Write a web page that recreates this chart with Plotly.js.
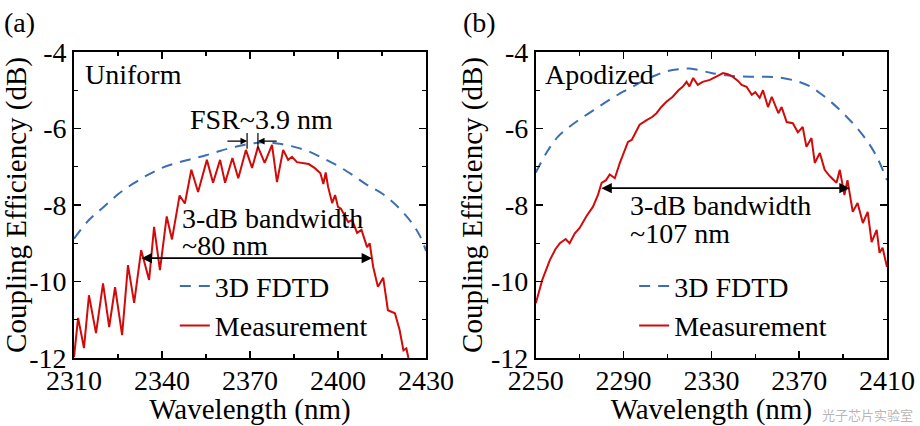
<!DOCTYPE html>
<html>
<head>
<meta charset="utf-8">
<script src="https://cdn.plot.ly/plotly-3.0.1.min.js"></script>
<style>html,body{margin:0;padding:0;background:#fff;}#chart{width:920px;height:426px;}</style>
</head>
<body>
<div id="chart"></div>
<script>
// ---------- data: panel (a) Uniform ----------
const wlLeftMeas = [2310,2311.4,2313.4,2315.1,2317.5,2319.9,2322,2324,2326.4,2328.4,2330.5,2332.9,2335.6,2337.3,2339.3,2341.6,2343.4,2346,2347.8,2350,2352.3,2355.3,2357.4,2359.8,2361.5,2364,2366,2368.6,2370.7,2372.7,2375,2377.5,2379.2,2381.3,2383,2384.3,2386,2388,2390,2392,2394,2395,2395.8,2396.6,2398,2399,2400,2401,2402.4,2403.5,2404.8,2406.5,2408,2409.9,2410.8,2412,2413.6,2415.4,2417,2419.4,2421,2422.3,2423.3,2424];
const measLeft = [-11.98,-10.95,-11.74,-10.36,-11.35,-10.05,-11.19,-10.15,-11.4,-9.57,-10.56,-9.18,-9.96,-8.57,-9.7,-8.3,-8.9,-7.75,-7.96,-7.08,-7.66,-6.82,-7.42,-6.82,-7.42,-6.77,-7.3,-6.56,-7.03,-6.48,-6.9,-6.43,-7.4,-6.56,-6.82,-6.74,-6.88,-6.9,-6.93,-7.03,-7.17,-7.45,-7.15,-7.52,-7.95,-7.74,-8.05,-8.1,-8.3,-8.45,-8.39,-8.73,-8.65,-9.1,-9.0,-9.62,-10.14,-9.9,-10.75,-10.83,-11.27,-11.8,-11.75,-12.0];
const wlLeftSim = [2310,2315,2320,2325,2330,2335,2340,2345,2350,2355,2360,2365,2370,2375,2380,2385,2390,2395,2400,2405,2410,2415,2420,2425,2428,2430];
const fdtdLeft = [-8.88,-8.4,-8.06,-7.72,-7.45,-7.22,-7.03,-6.9,-6.8,-6.7,-6.58,-6.48,-6.4,-6.36,-6.4,-6.48,-6.6,-6.78,-6.98,-7.22,-7.48,-7.7,-8.02,-8.45,-8.82,-9.2];

// ---------- data: panel (b) Apodized ----------
const wlRightMeas = [2250,2253,2256.4,2259,2261,2263.6,2265.4,2267.8,2270,2273,2276,2278.3,2280,2282,2283.7,2286,2288.3,2290,2292,2293.7,2295.5,2297.3,2300.5,2303,2305,2307,2309.5,2312.4,2315,2316.9,2318.7,2320,2321.7,2323.8,2326,2329.3,2332,2335.3,2337.5,2339.8,2342,2343.8,2346,2348.4,2350,2352,2353.5,2355.8,2357.5,2360.5,2362,2364.3,2367.1,2369.4,2371.6,2373.3,2375.6,2377.1,2379.4,2381.6,2384,2387,2388.5,2390.6,2392,2394.4,2396.6,2399,2401.2,2403,2405.3,2406.6,2408,2410];
const measRight = [-10.57,-9.95,-9.44,-9.15,-9.0,-8.89,-9.0,-8.74,-8.6,-8.3,-8.05,-7.74,-7.42,-7.35,-7.2,-7.3,-6.9,-6.65,-6.35,-6.3,-6.1,-5.9,-5.78,-5.7,-5.6,-5.45,-5.3,-5.17,-5.0,-4.91,-4.78,-4.9,-4.68,-4.86,-4.78,-4.73,-4.65,-4.55,-4.58,-4.65,-4.75,-4.86,-4.91,-5.12,-5.05,-5.2,-5.0,-5.44,-5.17,-5.6,-5.44,-5.83,-5.86,-6.1,-5.96,-6.48,-6.25,-6.9,-6.64,-7.08,-7.25,-7.42,-7.08,-7.74,-7.35,-8.18,-7.95,-8.47,-8.18,-8.97,-8.65,-9.25,-9.12,-9.62];
const wlRightSim = [2250,2255,2260,2265,2270,2275,2280,2285,2290,2295,2300,2305,2310,2315,2320,2325,2330,2340,2350,2360,2370,2375,2380,2385,2390,2395,2400,2405,2410];
const fdtdRight = [-7.15,-6.62,-6.22,-5.97,-5.76,-5.57,-5.38,-5.2,-5.03,-4.88,-4.72,-4.6,-4.5,-4.45,-4.43,-4.48,-4.55,-4.63,-4.65,-4.66,-4.78,-4.9,-5.1,-5.33,-5.6,-5.9,-6.25,-6.7,-7.35];

// ---------- ticks and labels ----------
const xTicksLeft = [2310,2340,2370,2400,2430];
const xTicksRight = [2250,2290,2330,2370,2410];
const yTicks = [-12,-10,-8,-6,-4];
const yTickText = ['-12','-10','-8','-6','-4'];
const seriesNames = ['3D FDTD','Measurement'];
const panelLabels = ['(a)','(b)'];
const panelTitles = ['Uniform','Apodized'];
const watermark = '光子芯片实验室';

const FONT = 'Liberation Serif, Times New Roman, serif';
const BLUE = '#3d6eb0';
const RED = '#d10a0a';

const traces = [
  {x: wlLeftSim, y: fdtdLeft, name: seriesNames[0], type:'scatter', mode:'lines', line:{color:BLUE, width:2, dash:'11px,8px', shape:'spline'}, xaxis:'x', yaxis:'y', legend:'legend'},
  {x: wlLeftMeas, y: measLeft, name: seriesNames[1], type:'scatter', mode:'lines', line:{color:RED, width:2}, xaxis:'x', yaxis:'y', legend:'legend'},
  {x: wlRightSim, y: fdtdRight, name: seriesNames[0], type:'scatter', mode:'lines', line:{color:BLUE, width:2, dash:'11px,8px', shape:'spline'}, xaxis:'x2', yaxis:'y2', legend:'legend2'},
  {x: wlRightMeas, y: measRight, name: seriesNames[1], type:'scatter', mode:'lines', line:{color:RED, width:2}, xaxis:'x2', yaxis:'y2', legend:'legend2'}
];

function xAxis(domain, range, tickvals, minorDt, anchor){
  return {
    domain: domain, range: range, anchor: anchor,
    tickvals: tickvals, ticktext: tickvals.map(String),
    ticks:'inside', ticklen:7, tickwidth:1.5, tickcolor:'#000', ticklabelstandoff:-3,
    minor:{dtick:minorDt, tick0:range[0], ticks:'inside', ticklen:4, tickwidth:1.2, tickcolor:'#000'},
    showline:true, linecolor:'#000', linewidth:1.8, mirror:'ticks',
    showgrid:false, zeroline:false,
    tickfont:{family:FONT, size:28, color:'#000'},
    title:{text:'Wavelength (nm)', font:{family:FONT, size:29, color:'#000'}, standoff:7}
  };
}
function yAxis(anchor){
  return {
    domain:[0,1], range:[-12,-4], anchor: anchor,
    tickvals: yTicks, ticktext: yTickText,
    ticks:'inside', ticklen:7, tickwidth:1.5, tickcolor:'#000',
    minor:{dtick:1, tick0:-12, ticks:'inside', ticklen:4, tickwidth:1.2, tickcolor:'#000'},
    showline:true, linecolor:'#000', linewidth:1.8, mirror:'ticks',
    showgrid:false, zeroline:false,
    tickfont:{family:FONT, size:28, color:'#000'},
    title:{text:'Coupling Efficiency (dB)', font:{family:FONT, size:29, color:'#000'}, standoff:0}
  };
}

const legendBase = {xanchor:'left', yanchor:'top', bgcolor:'rgba(0,0,0,0)', borderwidth:0,
  font:{family:FONT, size:28, color:'#000'}, itemwidth:30, tracegroupgap:0};

function txt(text, x, y, xanchor, size){
  return {text:text, xref:'paper', yref:'paper', x:x, y:y, xanchor:xanchor, yanchor:'middle', showarrow:false,
    font:{family:FONT, size:size||28, color:'#000'}};
}
function arrow(xr, yr, x, y, ax, ay, both, w, s){
  return {text:'', xref:xr, yref:yr, axref:xr, ayref:yr, x:x, y:y, ax:ax, ay:ay, showarrow:true,
    arrowhead:2, startarrowhead:2, arrowside: both ? 'end+start' : 'end', arrowwidth:w, arrowsize:s, startarrowsize:s,
    arrowcolor:'#000', standoff:0, startstandoff:0};
}

const layout = {
  width:920, height:426,
  margin:{l:74, r:33, t:52, b:68},
  paper_bgcolor:'#fff', plot_bgcolor:'#fff',
  font:{family:FONT, color:'#000'},
  showlegend:true,
  xaxis: xAxis([0,0.433], [2310,2430], xTicksLeft, 15, 'y'),
  yaxis: yAxis('x'),
  xaxis2: xAxis([0.568,1], [2250,2410], xTicksRight, 20, 'y2'),
  yaxis2: yAxis('x2'),
  legend: Object.assign({x:0.124, y:0.316}, legendBase),
  legend2: Object.assign({x:0.689, y:0.316}, legendBase),
  annotations:[
    txt(panelLabels[0], -0.088, 1.098, 'left'),
    txt(panelLabels[1], 0.4755, 1.098, 'left'),
    txt(panelTitles[0], 0.0115, 0.926, 'left'),
    txt(panelTitles[1], 0.577, 0.926, 'left'),
    txt('FSR~3.9 nm', 0.2312, 0.779, 'center'),
    txt('3-dB bandwidth', 0.1304, 0.456, 'left'),
    txt('~80 nm', 0.1304, 0.369, 'left'),
    txt('3-dB bandwidth', 0.6814, 0.498, 'left'),
    txt('~107 nm', 0.6814, 0.407, 'left'),
    {text:watermark, xref:'paper', yref:'paper', x:1.035, y:-0.185, xanchor:'right', yanchor:'middle', showarrow:false,
     font:{family:'Noto Sans CJK SC', size:13, color:'rgba(150,150,150,0.7)'}},
    arrow('x','y', 2411.6, -9.39, 2332.5, -9.39, true, 1.6, 1.3),
    arrow('x2','y2', 2393, -7.56, 2279.2, -7.56, true, 1.6, 1.3),
    arrow('x','y', 2369, -6.33, 2361.8, -6.33, false, 1.2, 1.1),
    arrow('x','y', 2372.7, -6.33, 2379.6, -6.33, false, 1.2, 1.1)
  ],
  shapes:[
    {type:'line', xref:'x', yref:'y', x0:2369, x1:2369, y0:-6.12, y1:-6.53, line:{color:'#000', width:1.2}},
    {type:'line', xref:'x', yref:'y', x0:2372.7, x1:2372.7, y0:-6.12, y1:-6.53, line:{color:'#000', width:1.2}}
  ]
};

Plotly.newPlot('chart', traces, layout, {displayModeBar:false, staticPlot:true});
</script>
</body>
</html>
